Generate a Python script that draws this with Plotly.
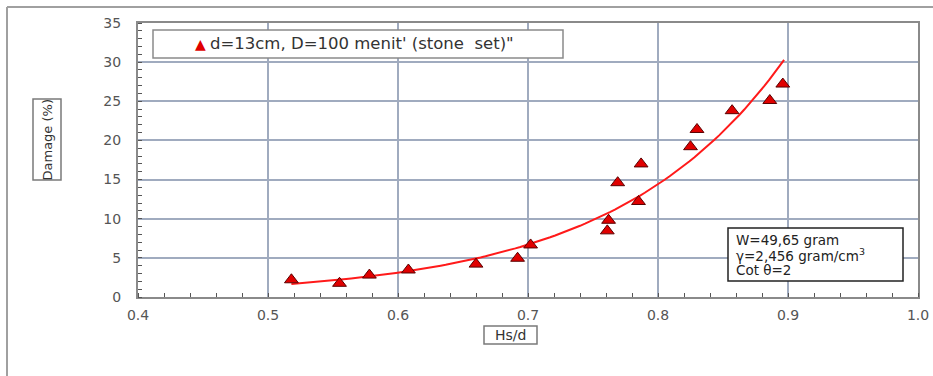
import numpy as np
import plotly.graph_objects as go

# Data
hs_d = [0.518, 0.555, 0.578, 0.608, 0.660, 0.692, 0.702, 0.761, 0.762, 0.769,
        0.785, 0.787, 0.825, 0.830, 0.857, 0.886, 0.896]
damage = [2.2, 1.75, 2.8, 3.45, 4.2, 4.95, 6.65, 8.45, 9.8, 14.6,
          12.2, 17.0, 19.2, 21.4, 23.8, 25.1, 27.2]

# Exponential trendline (fit of ln(damage) on Hs/d, like a spreadsheet trendline)
b, ln_a = np.polyfit(np.array(hs_d), np.log(np.array(damage)), 1)
trend_x = np.linspace(min(hs_d), 0.897, 100)
trend_y = np.exp(ln_a) * np.exp(b * trend_x)

x_ticks = [0.4, 0.5, 0.6, 0.7, 0.8, 0.9, 1.0]
x_tick_text = ["0.4", "0.5", "0.6", "0.7", "0.8", "0.9", "1.0"]
y_ticks = [0, 5, 10, 15, 20, 25, 30, 35]

legend_label = "d=13cm, D=100 menit' (stone  set)\""
info_lines = ["W=49,65 gram", "γ=2,456 gram/cm<sup>3</sup>", "Cot θ=2"]
x_title = "Hs/d"
y_title = "Damage (%)"

FONT = "DejaVu Sans, Arial, sans-serif"
GRID = "#a0abbf"
AXIS = "#8a8a8a"
TICKC = "#555555"

fig = go.Figure()
fig.add_trace(go.Scatter(x=trend_x, y=trend_y, mode="lines",
                         line=dict(color="#ff1a1a", width=2), showlegend=False,
                         hoverinfo="skip"))
fig.add_trace(go.Scatter(x=hs_d, y=damage, mode="markers", name=legend_label,
                         marker=dict(symbol="triangle-up", size=12, color="#e00000",
                                     line=dict(color="#5a0000", width=1)),
                         showlegend=False))

L, R, T, B = 138, 15, 23, 79
W, H = 933, 376
pw, ph = W - L - R, H - T - B


def px(x):
    return (x - L) / pw


def py(y):
    return (H - B - y) / ph


fig.update_layout(
    width=W, height=H,
    margin=dict(l=L, r=R, t=T, b=B, autoexpand=False),
    paper_bgcolor="white", plot_bgcolor="white",
    font=dict(family=FONT, size=14, color=TICKC),
    showlegend=False,
    xaxis=dict(range=[0.4, 1.0], tickvals=x_ticks, ticktext=x_tick_text,
               automargin=False,
               showgrid=True, gridcolor=GRID, gridwidth=2,
               showline=True, linecolor=AXIS, linewidth=2, mirror=True,
               ticks="", zeroline=False, ticklabelstandoff=4,
               minor=dict(dtick=0.02, ticks="inside", ticklen=4, tickcolor=TICKC,
                          showgrid=False),
               tickfont=dict(family=FONT, size=14, color=TICKC)),
    yaxis=dict(range=[0, 35], tickvals=y_ticks, automargin=False,
               showgrid=True, gridcolor=GRID, gridwidth=2,
               showline=True, linecolor=AXIS, linewidth=2, mirror=True,
               ticks="", zeroline=False, ticklabelstandoff=12,
               minor=dict(dtick=1, ticks="inside", ticklen=4, tickcolor=TICKC,
                          showgrid=False),
               tickfont=dict(family=FONT, size=14, color=TICKC)),
)

# outer frame lines
fig.add_shape(type="line", xref="paper", yref="paper",
              x0=px(7), x1=px(933), y0=py(7), y1=py(7),
              line=dict(color="#a0a0a0", width=2))
fig.add_shape(type="line", xref="paper", yref="paper",
              x0=px(7), x1=px(7), y0=py(7), y1=py(376),
              line=dict(color="#a0a0a0", width=2))

# legend box
fig.add_shape(type="rect", xref="paper", yref="paper",
              x0=px(153), x1=px(563), y0=py(30), y1=py(58),
              line=dict(color="#8a8a8a", width=1.5), fillcolor="white")
fig.add_annotation(xref="paper", yref="paper", x=px(200), y=py(44),
                   text="▲", showarrow=False,
                   font=dict(family=FONT, size=14, color="#e00000"),
                   xanchor="center", yanchor="middle")
fig.add_annotation(xref="paper", yref="paper", x=px(208), y=py(44),
                   text=legend_label, showarrow=False,
                   font=dict(family=FONT, size=16.5, color="#333333"),
                   xanchor="left", yanchor="middle")

# info box
fig.add_shape(type="rect", xref="paper", yref="paper",
              x0=px(728), x1=px(903), y0=py(228), y1=py(281),
              line=dict(color="#222222", width=1.5), fillcolor="white")
info_y = [240, 255, 270]
for line, yy in zip(info_lines, info_y):
    fig.add_annotation(xref="paper", yref="paper", x=px(734), y=py(yy),
                       xanchor="left", yanchor="middle", align="left",
                       text=line, showarrow=False,
                       font=dict(family=FONT, size=13.5, color="#222222"))

# axis titles in boxes
fig.add_shape(type="rect", xref="paper", yref="paper",
              x0=px(484), x1=px(537), y0=py(326), y1=py(344),
              line=dict(color="#7a7a7a", width=1.5), fillcolor="white")
fig.add_annotation(xref="paper", yref="paper", x=px(510.5), y=py(335),
                   text=x_title, showarrow=False, xanchor="center", yanchor="middle",
                   font=dict(family=FONT, size=14, color="#333333"))
fig.add_shape(type="rect", xref="paper", yref="paper",
              x0=px(33), x1=px(61), y0=py(99), y1=py(180),
              line=dict(color="#7a7a7a", width=1.5), fillcolor="white")
fig.add_annotation(xref="paper", yref="paper", x=px(47), y=py(139.5),
                   text=y_title, textangle=-90, showarrow=False,
                   xanchor="center", yanchor="middle",
                   font=dict(family=FONT, size=13, color="#333333"))

fig.write_html("out.html", config={"displayModeBar": False},
               post_script="document.body.style.margin='0';document.body.style.overflow='hidden';")
